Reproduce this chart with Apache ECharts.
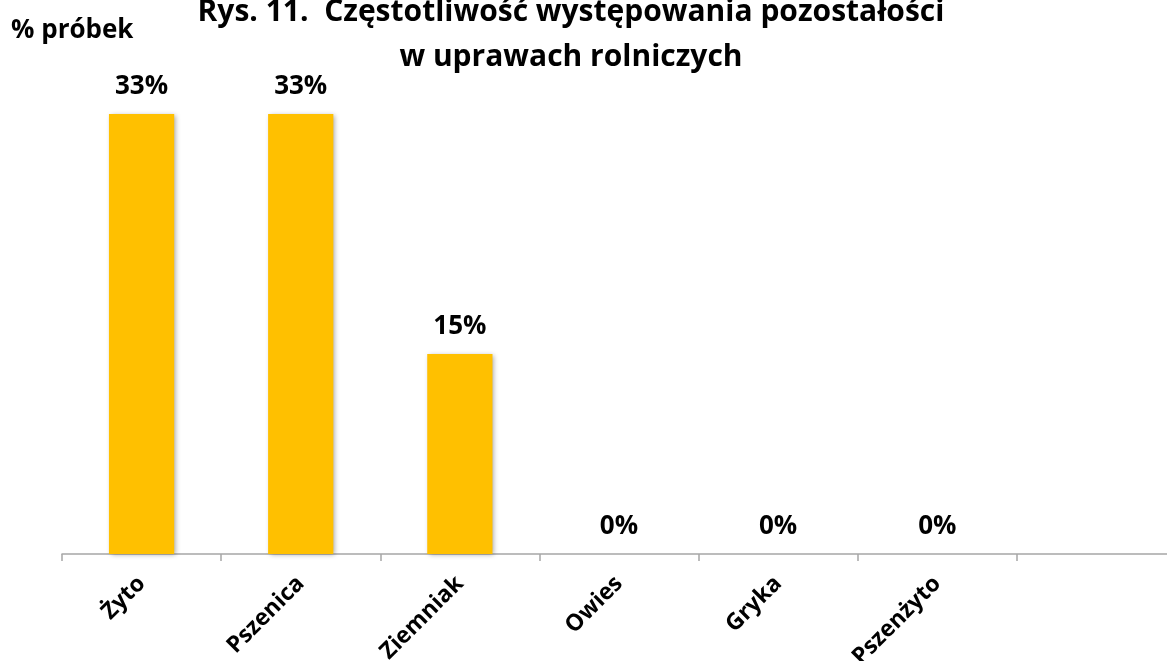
<!DOCTYPE html>
<html>
<head>
<meta charset="utf-8">
<script src="https://cdn.jsdelivr.net/npm/echarts@6/dist/echarts.min.js"></script>
<style>
html,body{margin:0;padding:0;background:#fff;}
#chart{width:1167px;height:661px;}
</style>
</head>
<body>
<div id="chart"></div>
<script>
var categories = ['Żyto', 'Pszenica', 'Ziemniak', 'Owies', 'Gryka', 'Pszenżyto', ''];
var values = [33, 33, 15, 0, 0, 0, null];
var titleLines = ['Rys. 11.  Częstotliwość występowania pozostałości', 'w uprawach rolniczych'];
var yAxisLabel = '% próbek';

var FONT = '"Open Sans", "Noto Sans", sans-serif';
var chart = echarts.init(document.getElementById('chart'));
chart.setOption({
  animation: false,
  backgroundColor: '#ffffff',
  title: {
    text: titleLines.join('\n'),
    left: 571,
    textAlign: 'center',
    top: -10,
    padding: 0,
    textStyle: { fontFamily: FONT, fontSize: 30, fontWeight: 'bold', color: '#000', lineHeight: 45 }
  },
  graphic: [{
    type: 'text',
    left: 11,
    top: 18,
    style: { text: yAxisLabel, fontFamily: FONT, fontSize: 26, fontWeight: 'bold', fill: '#000' }
  }],
  grid: { left: 62, width: 1114, top: 87.3, height: 466.7, containLabel: false, outerBoundsMode: 'none' },
  xAxis: {
    type: 'category',
    data: categories,
    boundaryGap: true,
    axisLine: { show: true, lineStyle: { color: '#a6a6a6', width: 1.5 } },
    axisTick: { show: true, alignWithLabel: false, length: 7, lineStyle: { color: '#a6a6a6', width: 1.5 } },
    axisLabel: {
      rotate: 45, margin: 26, interval: 0,
      fontFamily: FONT, fontSize: 23, fontWeight: 'bold', color: '#000'
    }
  },
  yAxis: {
    type: 'value', min: 0, max: 35, show: false,
    splitLine: { show: false }
  },
  series: [{
    type: 'bar',
    data: values,
    barWidth: '41%',
    itemStyle: {
      color: '#FFC000',
      shadowColor: 'rgba(0,0,0,0.35)', shadowBlur: 5, shadowOffsetX: 2, shadowOffsetY: 1
    },
    label: {
      show: true, position: 'top', distance: 14,
      formatter: function (p) { return p.value == null ? '' : p.value + '%'; },
      fontFamily: FONT, fontSize: 26, fontWeight: 'bold', color: '#000'
    }
  }]
});
</script>
</body>
</html>
